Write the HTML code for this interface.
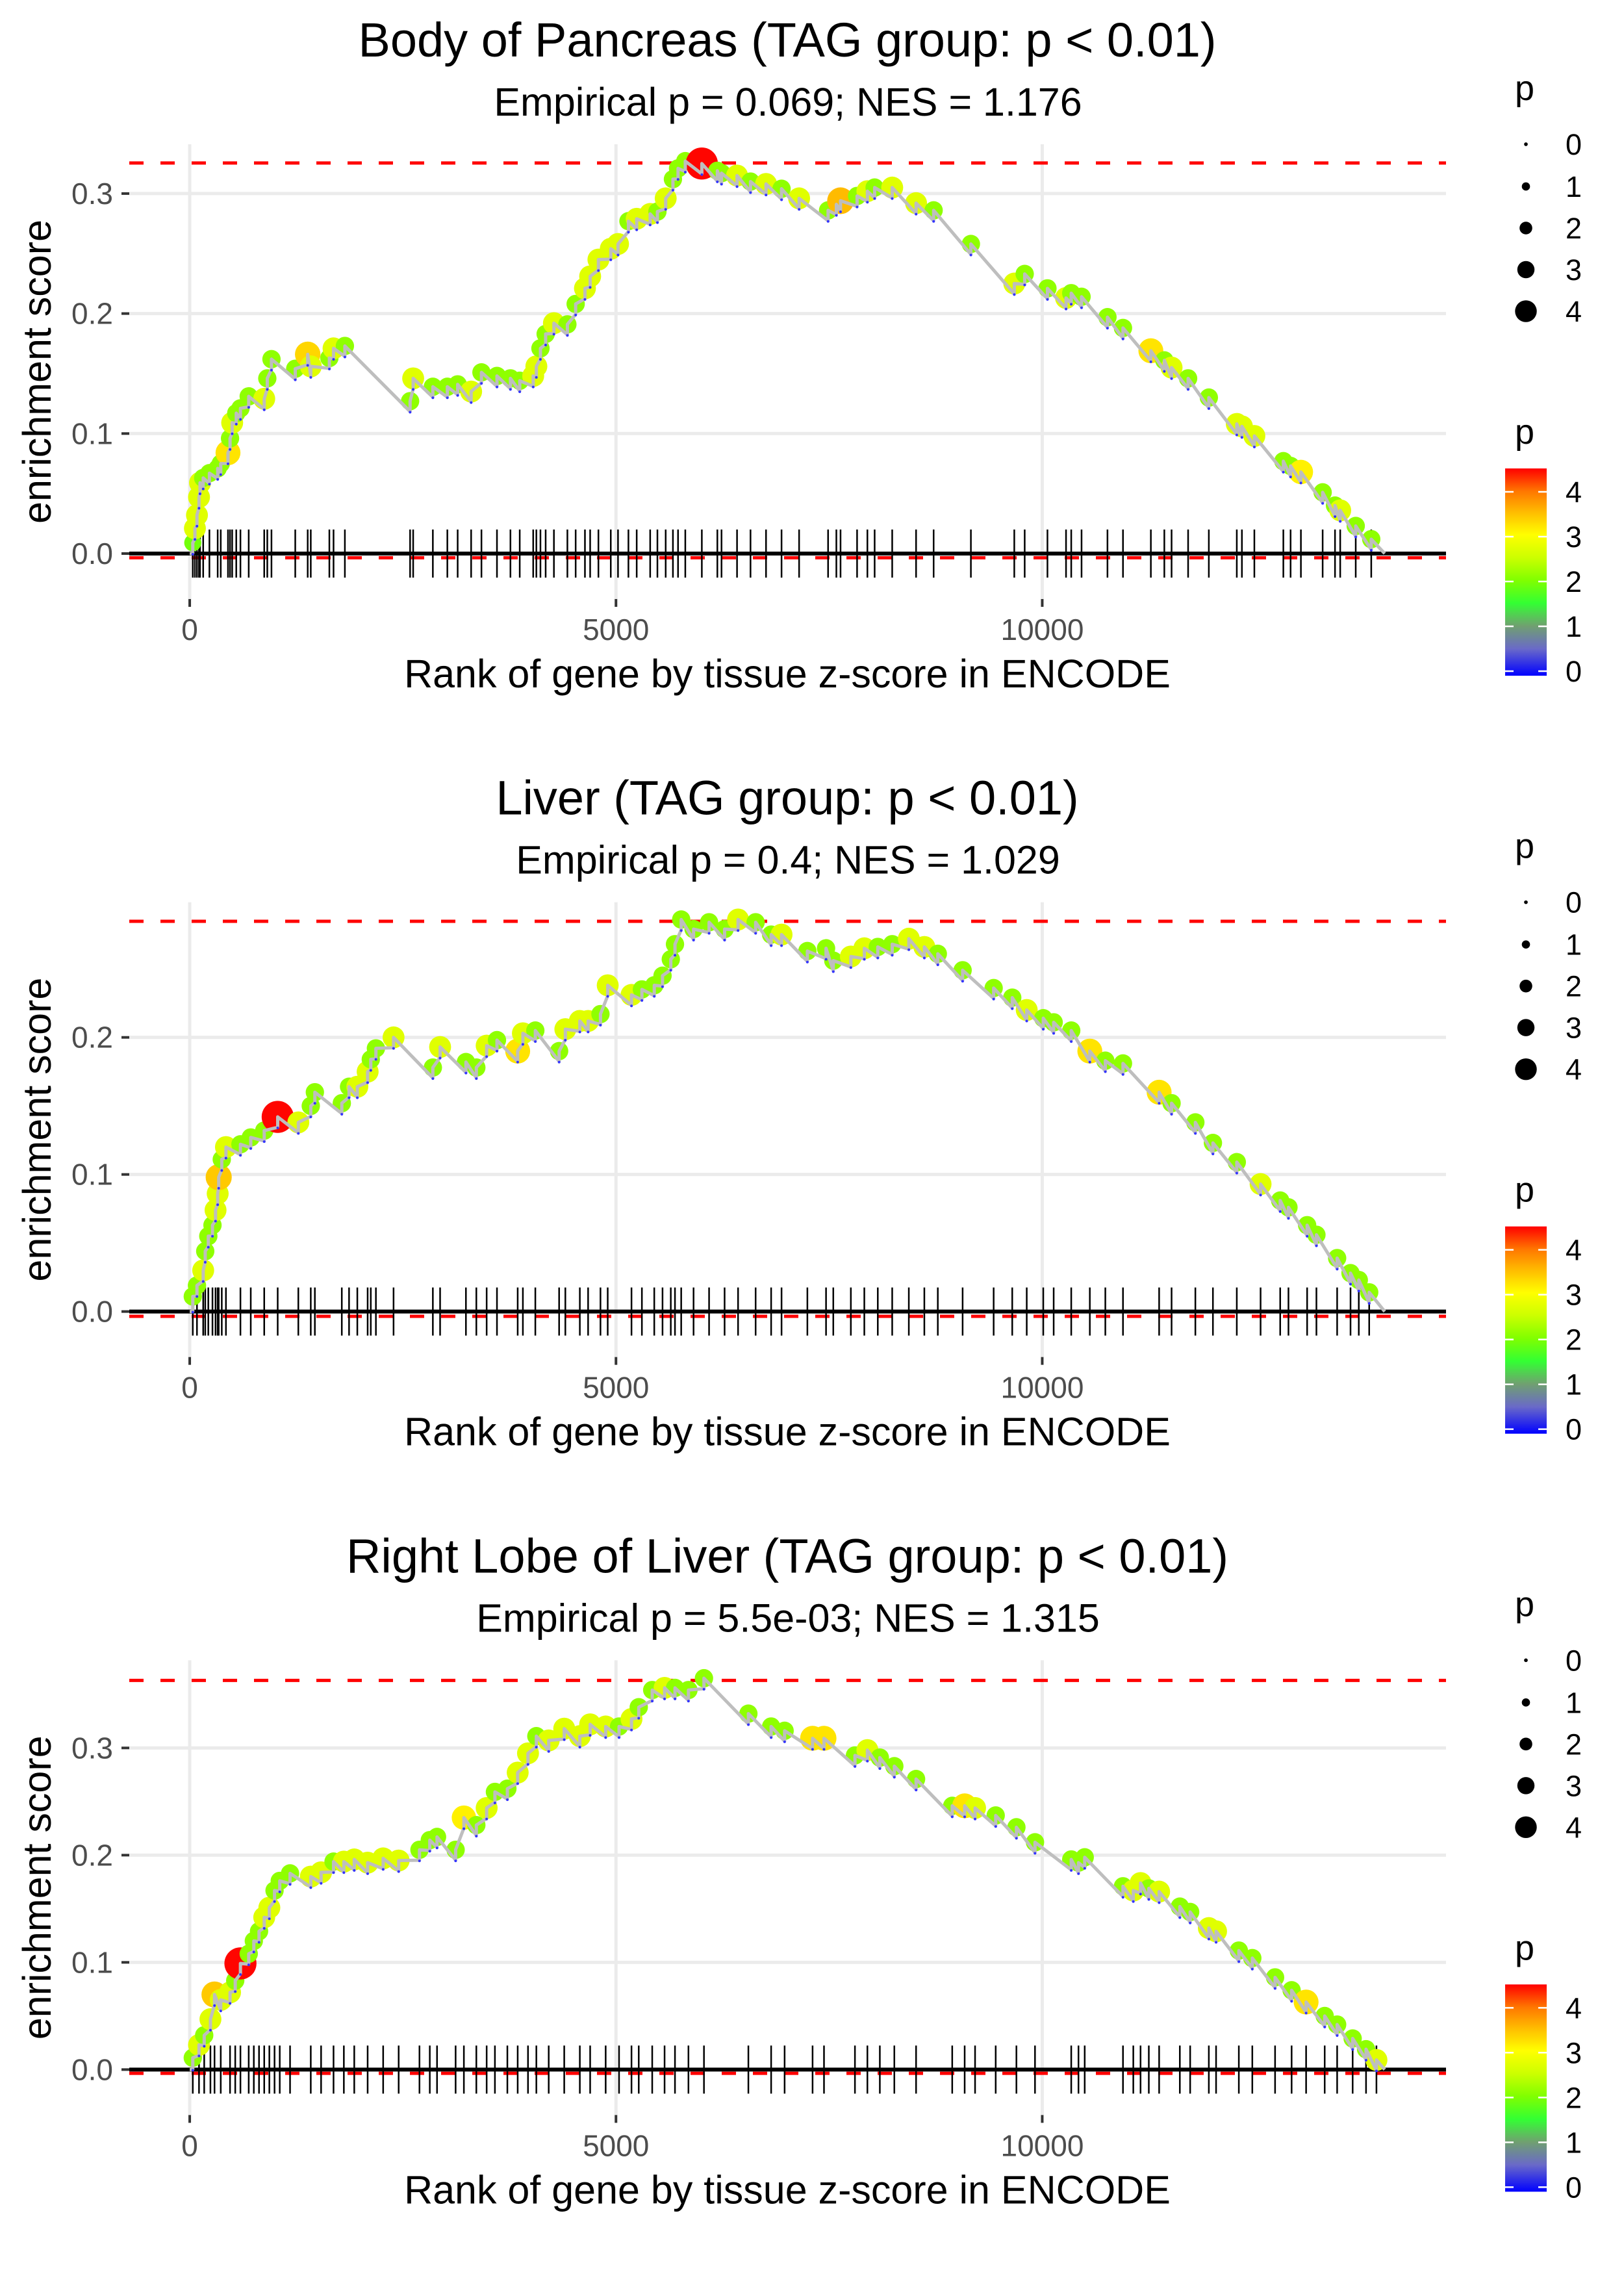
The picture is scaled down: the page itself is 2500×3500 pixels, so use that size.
<!DOCTYPE html>
<html><head><meta charset="utf-8"><style>
html,body{margin:0;padding:0;background:#fff;}
svg{display:block;font-family:"Liberation Sans",sans-serif;}
</style></head><body>
<svg id="chart" width="2500" height="3500" viewBox="0 0 2500 3500" xmlns="http://www.w3.org/2000/svg">
<defs>
<linearGradient id="pgrad" x1="0" y1="1" x2="0" y2="0">
<stop offset="0" stop-color="#0000ff"/>
<stop offset="0.13" stop-color="#6a6ac8"/>
<stop offset="0.24" stop-color="#70a070"/>
<stop offset="0.35" stop-color="#33ff33"/>
<stop offset="0.46" stop-color="#80ff00"/>
<stop offset="0.57" stop-color="#ccff00"/>
<stop offset="0.68" stop-color="#ffff00"/>
<stop offset="0.79" stop-color="#ffbb00"/>
<stop offset="0.89" stop-color="#ff7700"/>
<stop offset="1" stop-color="#ff0000"/>
</linearGradient>
</defs>
</svg>
<script>
// ---------- data ----------
const panelTitles = ["Body of Pancreas (TAG group: p < 0.01)", "Liver (TAG group: p < 0.01)", "Right Lobe of Liver (TAG group: p < 0.01)"];
const panelSubtitles = ["Empirical p = 0.069; NES = 1.176", "Empirical p = 0.4; NES = 1.029", "Empirical p = 5.5e-03; NES = 1.315"];
const xTicks = [0, 5000, 10000];
const xTickLabels = ["0", "5000", "10000"];
const nGenes = [14017, 14017, 14017];
const yTicks1 = [0, 0.1, 0.2, 0.3];
const yTicks2 = [0, 0.1, 0.2];
const yTicks3 = [0, 0.1, 0.2, 0.3];
const yDomain1 = [-0.0379, 0.3411];
const yDomain2 = [-0.0332, 0.2986];
const yDomain3 = [-0.0424, 0.3818];
const esMax = [0.3255, 0.2847, 0.363];
const esMin = [-0.0035, -0.0035, -0.0035];
const legendSizes = [0, 1, 2, 3, 4];
const colorbarTicks = [0, 1, 2, 3, 4];

const p1Rank = [36,61,85,109,121,158,231,328,364,449,473,498,546,595,692,874,910,959,1238,1384,1420,1638,1687,1820,2585,2621,2852,3022,3143,3301,3422,3604,3762,3871,4029,4066,4114,4175,4272,4430,4527,4636,4697,4794,4939,5024,5146,5243,5401,5486,5583,5668,5728,5813,6007,6189,6238,6420,6578,6760,6942,7148,7488,7585,7634,7828,7949,8034,8240,8520,8726,9163,9672,9794,10061,10279,10340,10461,10765,10947,11274,11432,11517,11711,11954,12282,12342,12488,12828,12913,13034,13289,13434,13495,13677,13859];
const p1ES = [0.009,0.021,0.032,0.047,0.059,0.063,0.067,0.071,0.075,0.084,0.096,0.109,0.117,0.121,0.131,0.129,0.146,0.162,0.154,0.166,0.156,0.163,0.171,0.173,0.127,0.146,0.139,0.139,0.141,0.135,0.151,0.148,0.146,0.144,0.148,0.156,0.171,0.183,0.192,0.191,0.208,0.221,0.231,0.245,0.254,0.258,0.277,0.279,0.283,0.285,0.296,0.312,0.321,0.327,0.325,0.319,0.317,0.315,0.310,0.308,0.304,0.296,0.286,0.291,0.294,0.298,0.302,0.305,0.305,0.292,0.286,0.258,0.225,0.233,0.221,0.213,0.217,0.214,0.197,0.188,0.169,0.161,0.155,0.146,0.130,0.108,0.106,0.098,0.077,0.073,0.068,0.051,0.040,0.036,0.023,0.012];
const p1P = [2,2.8,2.8,2.8,2.8,2.2,2.2,2.2,2.2,3.3,2.2,2.8,2.2,2.2,2.2,2.8,2.2,2.2,2.2,3.4,2.8,2.2,2.8,2.2,2.2,2.8,2.2,2.2,2.2,2.8,2.2,2.2,2.2,2.2,2.8,2.8,2.2,2.2,2.8,2.2,2.2,2.8,2.8,2.8,2.8,2.8,2.2,2.8,2.8,2.2,2.8,2.2,2.2,2.2,4.5,2.2,2.2,2.8,2.2,2.8,2.2,2.8,2.2,2.2,3.6,2.2,2.8,2.2,2.8,2.8,2.2,2.2,2.8,2.2,2.2,2.8,2.2,2.2,2.2,2.2,3.3,2.2,2.8,2.2,2.2,2.8,2.8,2.8,2.2,2.2,3.2,2.2,2.2,2.8,2.2,2.2];

const p2Rank = [36,85,158,182,218,267,303,328,340,376,425,595,716,874,1032,1274,1420,1468,1784,1869,1966,2087,2124,2184,2391,2852,2937,3240,3362,3483,3604,3847,3908,4054,4333,4406,4576,4673,4818,4903,5182,5304,5449,5546,5643,5692,5765,5910,6092,6274,6432,6638,6820,6942,7245,7464,7549,7755,7913,8071,8240,8435,8617,8775,9066,9430,9648,9818,10012,10134,10340,10558,10740,10947,11371,11517,11796,12002,12282,12561,12791,12888,13107,13216,13459,13616,13713,13835];
const p2ES = [0.011,0.019,0.030,0.044,0.055,0.063,0.074,0.086,0.098,0.111,0.120,0.122,0.127,0.132,0.142,0.138,0.150,0.160,0.152,0.164,0.164,0.175,0.184,0.192,0.200,0.178,0.193,0.182,0.178,0.194,0.198,0.190,0.203,0.205,0.190,0.206,0.212,0.212,0.217,0.238,0.231,0.235,0.238,0.245,0.257,0.268,0.286,0.279,0.284,0.279,0.286,0.284,0.275,0.275,0.263,0.265,0.256,0.259,0.265,0.266,0.268,0.272,0.266,0.261,0.249,0.236,0.229,0.220,0.214,0.211,0.205,0.190,0.183,0.181,0.160,0.152,0.138,0.123,0.109,0.093,0.081,0.076,0.063,0.056,0.039,0.028,0.023,0.014];
const p2P = [2.2,2.2,2.8,2.2,2.2,2.2,2.8,2.8,3.5,2.2,2.8,2.2,2.2,2.2,4.5,2.8,2.2,2.2,2.2,2.2,2.8,2.8,2.2,2.2,2.8,2.2,2.8,2.2,2.2,2.8,2.2,3.3,2.8,2.2,2.2,2.8,2.8,2.8,2.2,2.8,2.8,2.2,2.2,2.2,2.2,2.2,2.2,2.2,2.2,2.2,2.8,2.2,2.2,2.8,2.2,2.2,2.2,2.8,2.8,2.2,2.2,2.8,2.8,2.2,2.2,2.2,2.2,2.8,2.2,2.2,2.2,3.3,2.2,2.2,3.3,2.2,2.2,2.2,2.2,2.8,2.2,2.2,2.2,2.2,2.2,2.2,2.2,2.2];

const p3Rank = [36,109,170,243,291,364,473,534,595,692,752,813,874,934,995,1056,1177,1420,1541,1687,1808,1930,2087,2269,2451,2695,2816,2901,3119,3216,3362,3483,3580,3726,3847,3968,4066,4211,4393,4576,4697,4879,5036,5182,5267,5425,5570,5692,5850,6032,6553,6820,6978,7306,7440,7803,7949,8095,8265,8520,8944,9090,9212,9454,9697,9915,10340,10425,10498,10947,11068,11153,11250,11371,11614,11735,11954,12039,12306,12464,12731,12925,13095,13313,13459,13641,13798,13920];
const p3ES = [0.011,0.023,0.032,0.047,0.070,0.065,0.072,0.083,0.099,0.108,0.120,0.129,0.142,0.151,0.167,0.176,0.183,0.180,0.184,0.194,0.194,0.196,0.193,0.197,0.195,0.205,0.214,0.217,0.205,0.235,0.228,0.244,0.259,0.262,0.277,0.295,0.311,0.307,0.318,0.311,0.322,0.320,0.320,0.327,0.338,0.354,0.356,0.356,0.354,0.365,0.332,0.320,0.316,0.309,0.309,0.293,0.298,0.291,0.283,0.271,0.246,0.246,0.244,0.237,0.226,0.212,0.196,0.193,0.198,0.171,0.167,0.174,0.169,0.166,0.152,0.147,0.132,0.129,0.111,0.104,0.086,0.074,0.063,0.050,0.042,0.029,0.019,0.009];
const p3P = [2.2,2.8,2.2,2.8,3.5,2.8,2.8,2.2,4.5,2.2,2.2,2.2,2.8,2.8,2.2,2.2,2.2,2.8,2.8,2.2,2.8,2.8,2.8,2.8,2.8,2.2,2.2,2.2,2.2,3.2,2.2,2.8,2.2,2.2,2.8,2.8,2.2,2.8,2.8,2.8,2.8,2.8,2.2,2.8,2.2,2.2,2.8,2.2,2.2,2.2,2.2,2.2,2.2,3.3,3.3,2.2,2.8,2.2,2.2,2.2,2.2,3.3,2.8,2.2,2.2,2.2,2.2,2.2,2.2,2.2,2.8,2.8,2.2,2.8,2.2,2.2,2.8,2.8,2.2,2.2,2.2,2.2,3.3,2.2,2.2,2.2,2.2,2.8];

const panelRanks = [p1Rank, p2Rank, p3Rank];
const panelES = [p1ES, p2ES, p3ES];
const panelP = [p1P, p2P, p3P];
const panelYTicks = [yTicks1, yTicks2, yTicks3];
const panelYDomain = [yDomain1, yDomain2, yDomain3];

// ---------- layout ----------
const NS = "http://www.w3.org/2000/svg";
const svg = document.getElementById("chart");
const PANEL_H = 3500 / 3;
const PX0 = 199, PX1 = 2226, PY0 = 222, PY1 = 922;
const X_DOMAIN = [-709, 14736];

function mk(tag, attrs, parent) {
  const e = document.createElementNS(NS, tag);
  for (const k in attrs) e.setAttribute(k, attrs[k]);
  parent.appendChild(e);
  return e;
}
function colorFor(p) {
  const stops = [[0,[0,0,255]],[0.6,[106,106,200]],[1.1,[112,160,112]],[1.6,[51,255,51]],[2.1,[128,255,0]],[2.6,[204,255,0]],[3.1,[255,255,0]],[3.6,[255,187,0]],[4.05,[255,119,0]],[4.52,[255,0,0]]];
  if (p <= stops[0][0]) return "rgb(0,0,255)";
  for (let i = 1; i < stops.length; i++) {
    if (p <= stops[i][0]) {
      const t = (p - stops[i-1][0]) / (stops[i][0] - stops[i-1][0]);
      const c = stops[i-1][1].map((v, j) => Math.round(v + t * (stops[i][1][j] - v)));
      return "rgb(" + c.join(",") + ")";
    }
  }
  return "rgb(255,0,0)";
}
function radiusFor(p) { return 3 + 3.65 * p; }
function plotRadiusFor(p) { return 4 + 4.6 * p; }

for (let k = 0; k < 3; k++) {
  const g = mk("g", {transform: "translate(0," + (k * PANEL_H) + ")"}, svg);
  
  
  const yd = panelYDomain[k];
  const xs = r => PX0 + (r - X_DOMAIN[0]) / (X_DOMAIN[1] - X_DOMAIN[0]) * (PX1 - PX0);
  const ys = v => PY1 - (v - yd[0]) / (yd[1] - yd[0]) * (PY1 - PY0);

  const t = mk("text", {x: 1212, y: 87, "text-anchor": "middle", "font-size": 74, fill: "#000"}, g);
  t.textContent = panelTitles[k];
  
  
  const st = mk("text", {x: 1213, y: 178, "text-anchor": "middle", "font-size": 61, fill: "#000"}, g);
  st.textContent = panelSubtitles[k];
  
  

  // grid
  for (const v of panelYTicks[k]) {
    const gl = mk("line", {x1: PX0, x2: PX1, y1: ys(v), y2: ys(v), stroke: "#ebebeb", "stroke-width": 5}, g);
    
    
    const tm = mk("line", {x1: 187, x2: 199, y1: ys(v), y2: ys(v), stroke: "#333", "stroke-width": 4}, g);
    
    
    const tl = mk("text", {x: 174, y: ys(v) + 16, "text-anchor": "end", "font-size": 46, fill: "#4d4d4d"}, g);
    tl.textContent = v.toFixed(1);
    
    
  }
  for (let i = 0; i < xTicks.length; i++) {
    const x = xs(xTicks[i]);
    const gl = mk("line", {x1: x, x2: x, y1: PY0, y2: PY1, stroke: "#ebebeb", "stroke-width": 5}, g);
    
    
    const tm = mk("line", {x1: x, x2: x, y1: PY1, y2: PY1 + 12, stroke: "#333", "stroke-width": 4}, g);
    
    
    const tl = mk("text", {x: x, y: 985, "text-anchor": "middle", "font-size": 46, fill: "#4d4d4d"}, g);
    tl.textContent = xTickLabels[i];
    
    
  }
  const xt = mk("text", {x: 1212, y: 1058, "text-anchor": "middle", "font-size": 61, fill: "#000"}, g);
  xt.textContent = "Rank of gene by tissue z-score in ENCODE";
  
  
  const yt = mk("text", {x: 0, y: 0, "text-anchor": "middle", "font-size": 61, fill: "#000", transform: "translate(78,572) rotate(-90)"}, g);
  yt.textContent = "enrichment score";
  
  

  // dashed lines
  const d1 = mk("line", {x1: PX0, x2: PX1, y1: ys(esMax[k]), y2: ys(esMax[k]), stroke: "#ff0000", "stroke-width": 5, "stroke-dasharray": "22 26"}, g);
  
  
  const d2 = mk("line", {x1: PX0, x2: PX1, y1: ys(esMin[k]), y2: ys(esMin[k]), stroke: "#ff0000", "stroke-width": 5, "stroke-dasharray": "22 26"}, g);
  
  

  const ranks = panelRanks[k], es = panelES[k], pv = panelP[k];
  // hit ticks
  for (let i = 0; i < ranks.length; i++) {
    const hl = mk("line", {x1: xs(ranks[i]), x2: xs(ranks[i]), y1: 815, y2: 889, stroke: "#000", "stroke-width": 2.5}, g);
    
    
  }
  const zl = mk("line", {x1: PX0, x2: PX1, y1: ys(0), y2: ys(0), stroke: "#000", "stroke-width": 6}, g);
  
  

  // points
  for (let i = 0; i < ranks.length; i++) {
    const c = mk("circle", {cx: xs(ranks[i]), cy: ys(es[i]), r: plotRadiusFor(pv[i]), fill: colorFor(pv[i])}, g);
    
    
  }
  // zigzag line
  let d = "M" + xs(0) + "," + ys(0);
  const valleys = [];
  for (let i = 0; i < ranks.length; i++) {
    const py = ys(es[i]);
    const vy = i === 0 ? ys(0) : py + 16;
    valleys.push([xs(ranks[i]), vy]);
    d += " L" + xs(ranks[i]) + "," + vy + " L" + xs(ranks[i]) + "," + py;
  }
  d += " L" + xs(nGenes[k]) + "," + ys(0);
  const path = mk("path", {d: d, fill: "none", stroke: "#bebebe", "stroke-width": 5, "stroke-linejoin": "round"}, g);
  
  
  for (const v of valleys) {
    const c = mk("circle", {cx: v[0], cy: v[1] + 1, r: 2, fill: "#3333ff"}, g);
    
    
  }

  // size legend
  const lt = mk("text", {x: 2332, y: 154, "font-size": 54, fill: "#000"}, g);
  lt.textContent = "p";
  
  
  const legY = [222, 287, 351, 415, 479];
  for (let i = 0; i < legendSizes.length; i++) {
    const c = mk("circle", {cx: 2349, cy: legY[i], r: radiusFor(legendSizes[i]) * 0.95, fill: "#000"}, g);
    
    
    const l = mk("text", {x: 2410, y: legY[i] + 16, "font-size": 45, fill: "#000"}, g);
    l.textContent = String(legendSizes[i]);
    
    
  }
  // colorbar
  const ct = mk("text", {x: 2332, y: 683, "font-size": 54, fill: "#000"}, g);
  ct.textContent = "p";
  
  
  const cb = mk("rect", {x: 2317, y: 721, width: 64, height: 319, fill: "url(#pgrad)"}, g);
  
  
  const cby = v => 1033 - v * 69;
  for (const v of colorbarTicks) {
    const a = mk("line", {x1: 2317, x2: 2330, y1: cby(v), y2: cby(v), stroke: "#fff", "stroke-width": 2.5}, g);
    
    
    const b = mk("line", {x1: 2368, x2: 2381, y1: cby(v), y2: cby(v), stroke: "#fff", "stroke-width": 2.5}, g);
    
    
    const l = mk("text", {x: 2410, y: cby(v) + 16, "font-size": 45, fill: "#000"}, g);
    l.textContent = String(v);
    
    
  }
}
</script>
</body></html>
